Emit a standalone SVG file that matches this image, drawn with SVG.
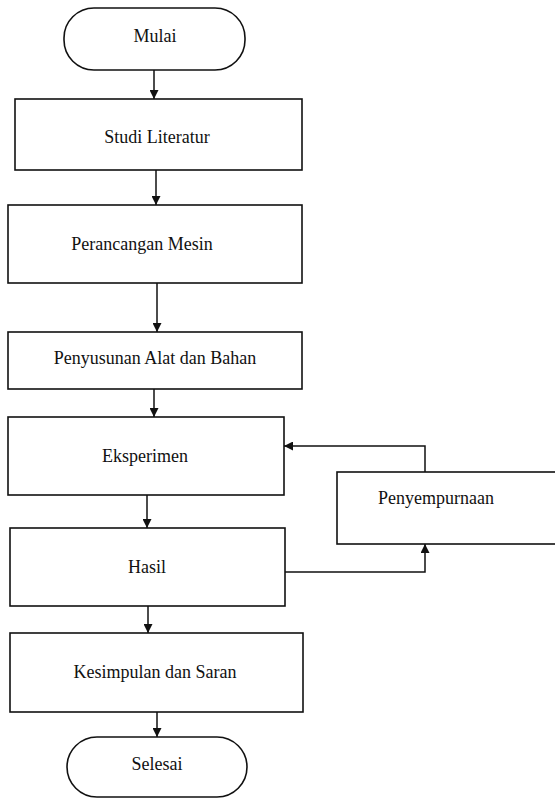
<svg xmlns="http://www.w3.org/2000/svg" width="555" height="798" viewBox="0 0 555 798">
<style>
.n{fill:#fff;stroke:#111;stroke-width:1.6}
.t{font-size:18px;fill:#111;text-anchor:middle}
.c{fill:none;stroke:#111;stroke-width:1.5}
</style>
<defs>
<marker id="a" viewBox="0 0 10 10" refX="10" refY="5" markerWidth="9" markerHeight="9" markerUnits="userSpaceOnUse" orient="auto">
<path d="M0,0 L10,5 L0,10 z" fill="#111"/>
</marker>
</defs>
<rect width="555" height="798" fill="#fff"/>
<g font-family="Liberation Serif, Times New Roman, serif">
<g id="mulai"><rect class="n" x="64" y="8" width="181" height="62" rx="30"/><text class="t" font-family="Liberation Serif" x="155" y="42">Mulai</text></g>
<g id="studi"><rect class="n" x="15" y="99" width="287" height="71"/><text class="t" font-family="Liberation Serif" x="157" y="143">Studi Literatur</text></g>
<g id="perancangan"><rect class="n" x="8" y="205" width="294" height="78"/><text class="t" font-family="Liberation Serif" x="142" y="250">Perancangan Mesin</text></g>
<g id="penyusunan"><rect class="n" x="8" y="332" width="294" height="57"/><text class="t" font-family="Liberation Serif" x="155" y="364">Penyusunan Alat dan Bahan</text></g>
<g id="eksperimen"><rect class="n" x="8" y="417" width="276" height="78"/><text class="t" font-family="Liberation Serif" x="145" y="462">Eksperimen</text></g>
<g id="penyempurnaan"><rect class="n" x="337" y="472" width="222" height="72"/><text class="t" font-family="Liberation Serif" x="436" y="504">Penyempurnaan</text></g>
<g id="hasil"><rect class="n" x="10" y="528" width="275" height="78"/><text class="t" font-family="Liberation Serif" x="147" y="573">Hasil</text></g>
<g id="kesimpulan"><rect class="n" x="10" y="633" width="293" height="79"/><text class="t" font-family="Liberation Serif" x="155" y="678">Kesimpulan dan Saran</text></g>
<g id="selesai"><rect class="n" x="67" y="737" width="180" height="60" rx="30"/><text class="t" font-family="Liberation Serif" x="157" y="770">Selesai</text></g>
</g>
<g id="connectors">
<path class="c" d="M154,70 V99" marker-end="url(#a)"/>
<path class="c" d="M156,170 V205" marker-end="url(#a)"/>
<path class="c" d="M157,283 V332" marker-end="url(#a)"/>
<path class="c" d="M154,389 V417" marker-end="url(#a)"/>
<path class="c" d="M147,495 V528" marker-end="url(#a)"/>
<path class="c" d="M148,606 V633" marker-end="url(#a)"/>
<path class="c" d="M157,712 V737" marker-end="url(#a)"/>
<path class="c" d="M285,572 H425 V544" marker-end="url(#a)"/>
<path class="c" d="M425,472 V446 H284" marker-end="url(#a)"/>
</g>
</svg>
